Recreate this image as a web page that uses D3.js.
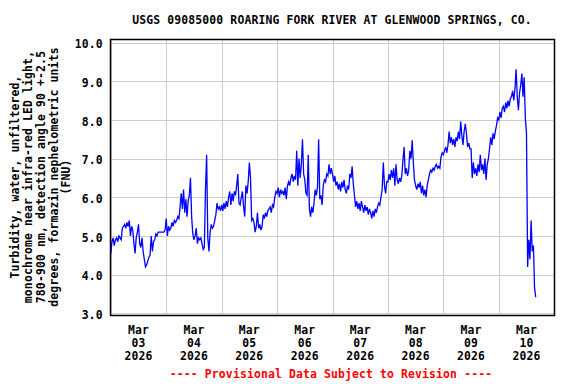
<!DOCTYPE html>
<html>
<head>
<meta charset="utf-8">
<script src="https://cdn.jsdelivr.net/npm/d3@7"></script>
<style>
  html, body { margin: 0; padding: 0; background: #fff; }
  svg text { font-family: "DejaVu Sans Mono", monospace; font-weight: bold; font-size: 11.4px; letter-spacing: 0.15px; }
</style>
</head>
<body>
<svg id="chart" width="576" height="384"></svg>
<script>
// ---- Data (turbidity, FNU, 30-minute readings starting 2026-03-03 00:00) ----
const titleText = "USGS 09085000 ROARING FORK RIVER AT GLENWOOD SPRINGS, CO.";
const yTitleLines = [
  "Turbidity, water, unfiltered,",
  "monochrome near infra-red LED light,",
  "780-900 nm, detection angle 90 +-2.5",
  "degrees, formazin nephelometric units",
  "(FNU)"
];
const footerText = "---- Provisional Data Subject to Revision ----";
const yTicks = [3, 4, 5, 6, 7, 8, 9, 10];
const dayLabels = ["03", "04", "05", "06", "07", "08", "09", "10"];
const monthLabel = "Mar";
const yearLabel = "2026";

const mar03 = [4.55,4.85,4.95,4.75,4.9,4.95,4.85,5.0,4.95,4.9, 5.2,5.25,5.3,5.2,5.35,5.25,5.4,5.0,5.25,5.15,
  4.8,4.55,4.95,5.1,5.3,4.8,4.7,4.95,4.6,4.4, 4.2,4.25,4.35,4.45,4.5,5.0,4.6,4.85,4.9,5.05, 5.0,5.1,5.1,5.1,5.1,5.1,5.1,5.15];
const mar04 = [5.45,5.0,5.25,5.15,5.2,5.35,5.25,5.4,5.35,5.4, 5.5,5.45,5.75,6.1,5.7,6.2,5.6,5.95,5.5,5.9,
  6.05,6.5,5.5,5.05,4.9,5.0,5.2,4.8,4.95,4.9, 4.95,4.8,4.65,4.7,6.2,7.1,4.95,4.6,5.1,5.3, 5.2,5.25,5.4,5.55,5.85,5.7,5.75,5.65];
const mar05 = [5.8,5.65,5.85,5.7,5.9,5.75,6.0,6.15,5.8,6.1, 5.9,6.15,6.05,6.3,6.6,5.85,5.8,6.0,6.15,5.75,
  5.5,6.3,6.1,6.4,6.9,6.5,5.4,5.45,5.35,5.1, 5.25,5.6,5.2,5.3,5.15,5.25,5.55,5.45,5.6,5.5, 5.65,5.7,5.75,5.6,5.8,5.75,6.0,6.15];
const mar06 = [6.1,6.25,6.0,6.2,6.1,6.15,6.05,6.25,5.95,6.3, 6.4,6.3,6.5,6.6,6.4,6.55,6.45,7.2,6.3,7.0,
  6.5,6.85,7.5,6.6,6.45,6.1,6.05,7.1,5.7,5.5, 5.75,5.6,5.85,6.2,6.05,6.25,7.5,5.95,6.05,5.8, 6.3,6.45,6.4,6.6,6.55,6.85,6.6,6.75];
const mar07 = [6.6,6.4,6.55,6.3,6.4,6.2,6.35,6.15,6.4,6.25, 6.45,6.2,6.1,6.3,6.2,6.6,6.5,6.8,6.35,6.05,
  5.75,5.9,5.7,5.85,5.65,5.9,5.75,5.6,5.8,5.65, 5.75,5.55,5.7,5.6,5.45,5.65,5.5,5.7,5.6,5.75, 5.85,5.8,6.0,6.2,6.9,6.3,6.1,6.4];
const mar08 = [6.4,6.6,6.45,6.7,6.5,6.75,6.3,6.85,6.45,6.35, 6.5,6.4,6.55,6.95,7.3,6.6,6.75,6.55,6.7,7.2,
  7.0,7.47,6.9,6.45,6.3,6.2,6.35,6.25,6.4,6.1, 6.3,6.05,6.2,6.0,6.3,6.45,6.6,6.7,6.65,6.75, 6.7,6.8,6.85,6.75,6.8,6.75,7.05,7.15];
const mar09 = [7.1,7.2,7.3,7.15,7.35,7.7,7.4,7.55,7.35,7.5, 7.3,7.55,7.45,7.7,7.5,7.96,7.6,7.35,7.7,7.9,
  7.65,7.3,7.4,7.25,7.25,6.5,6.9,6.6,6.75,6.55, 6.85,6.65,7.1,6.7,6.85,6.6,7.0,6.45,6.85,7.0, 7.25,7.55,7.35,7.65,7.5,7.7,7.85,8.05];
const mar10 = [8.0,8.2,8.05,8.3,8.35,8.2,8.45,8.3,8.5,8.35, 8.55,8.6,8.75,8.5,8.8,9.31,8.6,8.25,8.7,8.9,
  9.2,8.6,9.1,8.05,7.65,4.2,4.9,4.4,5.4,4.6, 4.75,3.65,3.42];

const values = [].concat(mar03, mar04, mar05, mar06, mar07, mar08, mar09, mar10);
const startMs = Date.UTC(2026, 2, 3);
const stepMs = 30 * 60 * 1000;
const data = values.map((v, i) => ({ t: new Date(startMs + i * stepMs), v }));

// ---- Layout ----
const svg = d3.select("#chart");
const plotL = 110.8, plotR = 554.2, plotT = 42.5, plotB = 313.3;

const x = d3.scaleUtc()
  .domain([new Date(Date.UTC(2026, 2, 3)), new Date(Date.UTC(2026, 2, 11))])
  .range([plotL, plotR]);
const y = d3.scaleLinear().domain([3, 10]).range([plotB, plotT]);

// Gridlines
const days = d3.utcDay.range(new Date(Date.UTC(2026, 2, 3)), new Date(Date.UTC(2026, 2, 12)));
svg.append("g").selectAll("line").data(days).join("line")
  .attr("x1", d => Math.round(x(d)) + 0.5).attr("x2", d => Math.round(x(d)) + 0.5)
  .attr("y1", 39.5).attr("y2", 315.5)
  .attr("stroke", "#cccccc").attr("stroke-width", 1);
svg.append("g").selectAll("line").data(yTicks).join("line")
  .attr("x1", 110.5).attr("x2", 554.5)
  .attr("y1", d => Math.round(y(d)) + 0.5).attr("y2", d => Math.round(y(d)) + 0.5)
  .attr("stroke", "#cccccc").attr("stroke-width", 1);

// Data line
const lineGen = d3.line().x(d => x(d.t)).y(d => y(d.v));
svg.append("path").datum(data)
  .attr("d", lineGen)
  .attr("fill", "none")
  .attr("stroke", "#0000ff")
  .attr("stroke-width", 1.3)
  .attr("stroke-linejoin", "miter");

// Frame
svg.append("rect")
  .attr("x", 110.5).attr("y", 39.5).attr("width", 444).attr("height", 276)
  .attr("fill", "none").attr("stroke", "#000").attr("stroke-width", 1.5);

// Y axis labels
const yAxis = d3.axisLeft(y).tickValues(yTicks).tickFormat(d3.format(".1f")).tickSize(0).tickPadding(8);
const gy = svg.append("g").attr("transform", `translate(${plotL},0)`).call(yAxis);
gy.select(".domain").remove();
gy.selectAll("text").attr("fill", "#000").attr("dy", "0.45em")
  .style("font-family", "DejaVu Sans Mono, monospace").style("font-size", "11.4px").style("font-weight", "bold");

// X axis labels (three lines centred at noon of each day)
const noons = dayLabels.map((_, i) => new Date(Date.UTC(2026, 2, 3 + i, 12)));
const gx = svg.append("g");
noons.forEach((d, i) => {
  const t = gx.append("text").attr("x", x(d)).attr("text-anchor", "middle").attr("fill", "#000");
  t.append("tspan").attr("x", x(d)).attr("y", 334).text(monthLabel);
  t.append("tspan").attr("x", x(d)).attr("y", 347).text(dayLabels[i]);
  t.append("tspan").attr("x", x(d)).attr("y", 360).text(yearLabel);
});

// Title
svg.append("text").attr("x", 332).attr("y", 24).attr("text-anchor", "middle").attr("fill", "#000").text(titleText);

// Y title
const yTitleX = [14.5, 28, 41, 53.5, 66];
yTitleLines.forEach((s, i) => {
  svg.append("text")
    .attr("transform", `translate(${yTitleX[i]},177) rotate(-90)`)
    .attr("text-anchor", "middle").attr("dominant-baseline", "central")
    .attr("fill", "#000").text(s);
});

// Footer
svg.append("text").attr("x", 331).attr("y", 378).attr("text-anchor", "middle").attr("fill", "#ff0000").text(footerText);
</script>
</body>
</html>
